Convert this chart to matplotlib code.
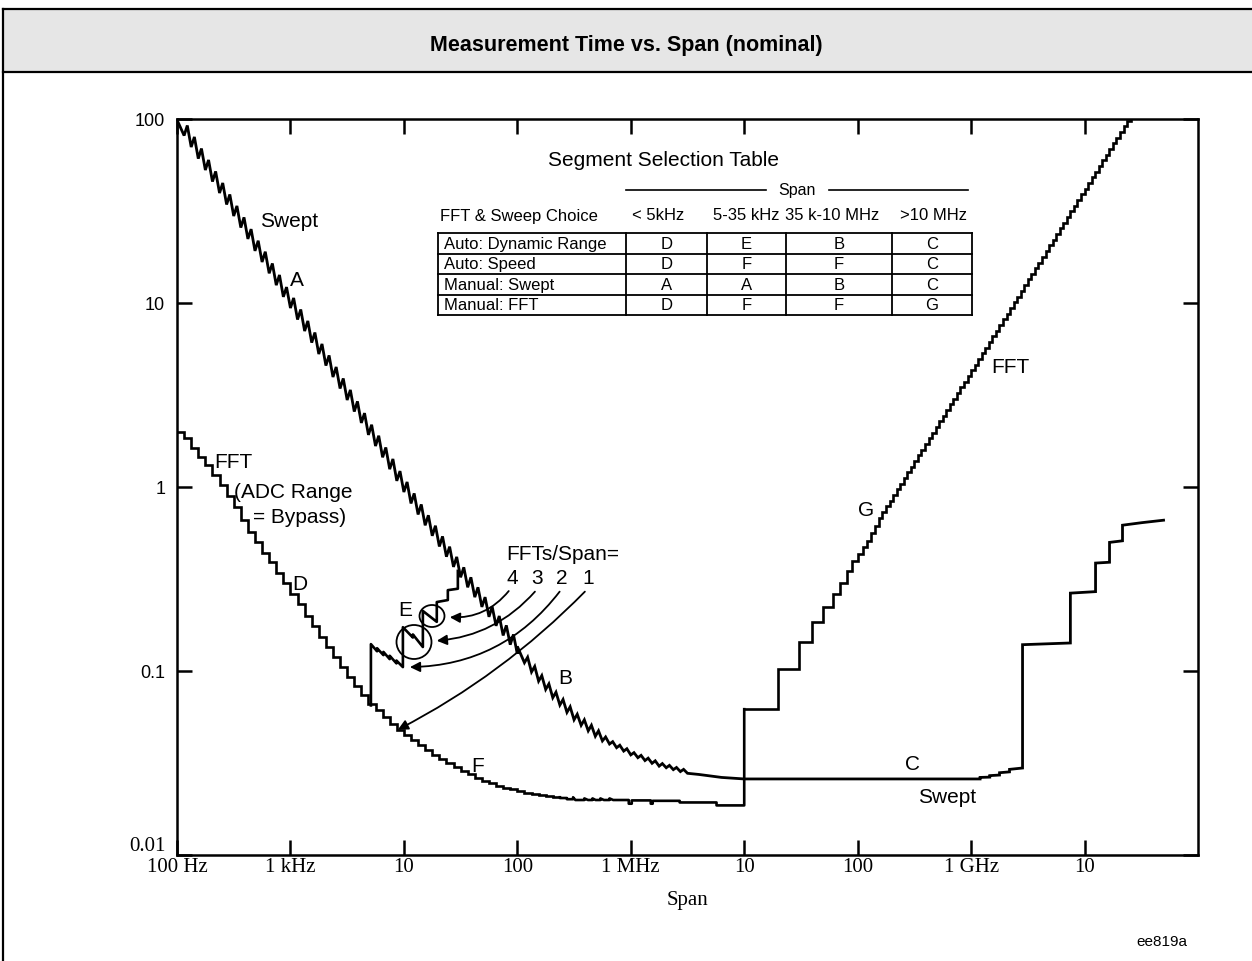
import matplotlib.pyplot as plt
from matplotlib.patches import Ellipse, Rectangle
from matplotlib.ticker import NullLocator

plt.rcParams['font.family'] = ['Liberation Sans', 'DejaVu Sans']

# sub-decade grids used by the step / tooth edges
sub16 = [1.0, 1.155, 1.334, 1.540, 1.778, 2.054, 2.371, 2.738,
         3.162, 3.652, 4.217, 4.870, 5.623, 6.494, 7.499, 8.660]
sub32 = [1.000, 1.075, 1.155, 1.241, 1.334, 1.433, 1.540, 1.655, 1.778, 1.911, 2.054,
         2.207, 2.371, 2.548, 2.738, 2.943, 3.162, 3.398, 3.652, 3.924, 4.217, 4.532,
         4.870, 5.233, 5.623, 6.043, 6.494, 6.978, 7.499, 8.058, 8.660, 9.306]

# Swept, segment A (sawtooth: value at top / bottom of each tooth), seconds
swept_a_edges = [m * 10.0**d for d in (2, 3, 4) for m in sub16] + [1e5]
swept_a_hi = [99.0, 92.2, 79.9, 69.1, 59.9, 51.9, 44.9, 38.9, 33.7, 29.2, 25.2, 21.8, 19.0, 16.4, 14.2, 12.2,
              10.65, 9.22, 7.99, 6.91, 5.99, 5.19, 4.49, 3.89, 3.37, 2.92, 2.52, 2.18, 1.90, 1.64, 1.42, 1.22,
              1.065, 0.923, 0.804, 0.702, 0.616, 0.539, 0.474, 0.417, 0.366, 0.323, 0.285, 0.252, 0.224,
              0.199, 0.177, 0.158]
swept_a_lo = [81.3, 70.4, 60.9, 52.8, 45.7, 39.6, 34.3, 29.7, 25.7, 22.3, 19.2, 16.7, 14.5, 12.5, 10.8, 9.39,
              8.13, 7.04, 6.09, 5.28, 4.57, 3.96, 3.43, 2.97, 2.57, 2.23, 1.92, 1.67, 1.45, 1.25, 1.08, 0.939,
              0.814, 0.709, 0.619, 0.543, 0.475, 0.418, 0.368, 0.323, 0.285, 0.252, 0.223, 0.197, 0.176,
              0.156, 0.139, 0.124]

# Swept, segment B
swept_b_edges = [m * 1e5 for m in sub16] + [m * 1e6 for m in sub16[:9]]
swept_b_hi = [0.1361, 0.1188, 0.1059, 0.0944, 0.0851, 0.0767, 0.0700, 0.0639, 0.0582, 0.0543,
              0.0507, 0.0473, 0.0438, 0.0413, 0.0395, 0.0378, 0.0360, 0.0348, 0.0336, 0.0325,
              0.0314, 0.0307, 0.0299, 0.0292]
swept_b_lo = [0.1109, 0.0988, 0.0881, 0.0794, 0.0716, 0.0653, 0.0596, 0.0543, 0.0507, 0.0473,
              0.0442, 0.0417, 0.0401, 0.0383, 0.0367, 0.0350, 0.0338, 0.0326, 0.0315, 0.0304,
              0.0298, 0.0291, 0.0284, 0.0278]

# Swept, segment C
swept_c_span = [3.98e6, 6.31e6, 1.0e7, 8.4e8, 1.2e9, 1.2e9, 1.46e9, 1.46e9, 1.78e9, 1.78e9,
                2.18e9, 2.18e9, 2.84e9, 2.84e9, 7.5e9, 7.5e9, 1.25e10, 1.25e10, 1.66e10,
                1.66e10, 2.16e10, 2.16e10, 3.2e10, 4.97e10]
swept_c_time = [0.0274, 0.0264, 0.0259, 0.0259, 0.0259, 0.0264, 0.0265, 0.0270, 0.0272, 0.0280,
                0.0283, 0.0292, 0.0297, 0.139, 0.142, 0.265, 0.270, 0.386, 0.390,
                0.50, 0.51, 0.62, 0.64, 0.66]

# FFT, segment D (staircase)
fft_d_edges = [m * 10.0**d for d in (2, 3, 4) for m in sub16] + [m * 1e5 for m in sub16[:7]]
fft_d_levels = [1.98, 1.84, 1.63, 1.46, 1.31, 1.16, 1.02, 0.89, 0.78, 0.66, 0.57, 0.50, 0.44, 0.39, 0.34, 0.30,
                0.262, 0.230, 0.200, 0.175, 0.153, 0.135, 0.119, 0.105, 0.093, 0.083, 0.074, 0.0665,
                0.061, 0.056, 0.0515, 0.048,
                0.0450, 0.0420, 0.0395, 0.0372, 0.0351, 0.0333, 0.0316, 0.0301, 0.0287, 0.0274,
                0.0263, 0.0253, 0.0245, 0.0238, 0.0232, 0.0227,
                0.0222, 0.0218, 0.0215, 0.0212, 0.0209, 0.0206]

# FFT, segment F (flat part up to 10 MHz)
fft_f_span = [2.371e5, 2.371e5, 2.738e5, 2.738e5, 3.1e5, 3.1e5, 3.25e5, 3.9e5, 3.9e5, 4.2e5, 4.6e5,
              4.6e5, 4.9e5, 5.4e5, 5.4e5, 5.8e5, 6.5e5, 6.5e5, 7.0e5, 9.6e5, 9.6e5, 1.02e6, 1.02e6,
              1.5e6, 1.5e6, 1.56e6, 1.56e6, 2.7e6, 2.7e6, 5.7e6, 5.7e6, 1.0e7, 1.0e7]
fft_f_time = [0.0206, 0.0204, 0.0204, 0.0201, 0.0201, 0.0206, 0.0199, 0.0199, 0.0203, 0.0199, 0.0199,
              0.0203, 0.0199, 0.0199, 0.0203, 0.0199, 0.0199, 0.0203, 0.0199, 0.0199, 0.0190, 0.0190, 0.0198,
              0.0198, 0.0190, 0.0190, 0.0197, 0.0197, 0.0193, 0.0193, 0.0186, 0.0186, 0.062]

# FFT, segment G (staircase above 10 MHz)
fft_g_edges = ([1e7, 1.97e7, 3.02e7, 3.93e7, 4.92e7, 6.03e7, 6.94e7, 8.0e7, 9.0e7, 1.0e8,
                1.11e8, 1.2e8, 1.3e8, 1.41e8]
               + [m * 1e8 for m in sub32[6:]] + [m * 1e9 for m in sub32]
               + [m * 1e10 for m in sub32[:14]] + [2.738e10])
fft_g_levels = [0.062, 0.1026, 0.144, 0.185, 0.223, 0.262, 0.30, 0.349, 0.395, 0.43, 0.47, 0.51, 0.56, 0.61,
                0.680, 0.730, 0.784, 0.841, 0.903, 0.970, 1.041, 1.118, 1.200, 1.288, 1.383, 1.485,
                1.594, 1.711, 1.837, 1.972, 2.117, 2.273, 2.440, 2.620, 2.813, 3.020, 3.242, 3.481,
                3.737, 4.012,
                4.307, 4.624, 4.964, 5.330, 5.722, 6.143, 6.595, 7.081, 7.602, 8.161, 8.762, 9.407,
                10.10, 10.84, 11.64, 12.50, 13.42, 14.41, 15.47, 16.60, 17.83, 19.14, 20.55, 22.06,
                23.68, 25.43, 27.30, 29.31, 31.47, 33.78, 36.27, 38.94,
                41.80, 44.88, 48.18, 51.73, 55.54, 59.62, 64.01, 68.72, 73.78, 79.21, 85.04, 91.30,
                98.02, 105.2]

# FFT with several FFTs per span, segment E
fft_e_span = [5.12e3, 5.12e3, 5.8e3, 5.8e3, 6.6e3, 6.6e3, 7.5e3, 7.5e3, 8.6e3, 8.6e3, 9.8e3,
              9.8e3, 1.2e4, 1.2e4, 1.47e4, 1.47e4, 1.95e4, 1.95e4, 2.44e4, 2.44e4, 2.99e4, 2.99e4]
fft_e_time = [0.065, 0.140, 0.128, 0.133, 0.122, 0.127, 0.116, 0.121, 0.110, 0.114, 0.105,
              0.173, 0.152, 0.158, 0.135, 0.212, 0.185, 0.237, 0.243, 0.275, 0.28, 0.35]

x_ticks = [1e2, 1e3, 1e4, 1e5, 1e6, 1e7, 1e8, 1e9, 1e10]
x_tick_labels = ['100 Hz', '1 kHz', '10', '100', '1 MHz', '10', '100', '1 GHz', '10']
y_ticks = [0.01, 0.1, 1, 10, 100]
y_tick_labels = ['0.01', '0.1', '1', '10', '100']

table_rows = ['Auto: Dynamic Range', 'Auto: Speed', 'Manual: Swept', 'Manual: FFT']
table_cols = ['< 5kHz', '5-35 kHz', '35 k-10 MHz', '>10 MHz']
table_cells = [['D', 'E', 'B', 'C'],
               ['D', 'F', 'F', 'C'],
               ['A', 'A', 'B', 'C'],
               ['D', 'F', 'F', 'G']]


def sawtooth(edges, hi, lo, rise=0.45):
    # each tooth climbs to its top over the first part of the tooth, then falls
    xs, ys = [edges[0]], [hi[0]]
    for k in range(len(hi)):
        if k > 0:
            xs.append(edges[k] * (edges[k + 1] / edges[k]) ** rise)
            ys.append(hi[k])
        xs.append(edges[k + 1])
        ys.append(lo[k])
    return xs, ys


fig = plt.figure(figsize=(12.52, 9.62), dpi=100)
W, H = 1252, 962
ax = fig.add_axes([177 / W, 1 - 856 / H, (1198 - 177) / W, (856 - 120) / H])
ax.set_xscale('log')
ax.set_yscale('log')
ax.set_xlim(1e2, 1e11)
ax.set_ylim(0.01, 100)

# curves
sa_x, sa_y = sawtooth(swept_a_edges, swept_a_hi, swept_a_lo)
sb_x, sb_y = sawtooth(swept_b_edges, swept_b_hi, swept_b_lo)
ax.plot(sa_x + sb_x + swept_c_span, sa_y + sb_y + swept_c_time, color='black', lw=2.0,
        solid_joinstyle='miter')
ax.stairs(fft_d_levels, fft_d_edges, baseline=None, color='black', lw=1.9)
ax.plot(fft_f_span, fft_f_time, color='black', lw=1.9)
ax.stairs(fft_g_levels, fft_g_edges, baseline=None, color='black', lw=1.9)
ax.plot(fft_e_span, fft_e_time, color='black', lw=1.9)

# axes styling
ax.set_xticks(x_ticks, x_tick_labels)
ax.set_yticks(y_ticks, y_tick_labels)
ax.xaxis.set_minor_locator(NullLocator())
ax.yaxis.set_minor_locator(NullLocator())
ax.tick_params(which='major', direction='in', length=11, width=1.8, top=True, right=True,
               colors='black')
ax.tick_params(axis='x', pad=1.5, labelsize=15)
ax.tick_params(axis='y', pad=8.5, labelsize=13)
for lab in ax.get_xticklabels():
    lab.set_fontfamily('Liberation Serif')
ylabs = ax.get_yticklabels()
ylabs[0].set_fontfamily('Liberation Serif')
ylabs[0].set_fontsize(15)
ylabs[0].set_verticalalignment('bottom')
for sp in ax.spines.values():
    sp.set_linewidth(1.8)
ax.set_xlabel('Span', family='Liberation Serif', fontsize=15, labelpad=10)

# curve annotations
fs = 15
ax.text(970, 28.2, 'Swept', fontsize=fs, ha='center', va='center')
ax.text(1.14e3, 13.5, 'A', fontsize=fs, ha='center', va='center')
ax.text(311, 1.37, 'FFT', fontsize=fs, ha='center', va='center')
ax.text(318, 0.94, '(ADC Range', fontsize=fs, ha='left', va='center')
ax.text(468, 0.695, '= Bypass)', fontsize=fs, ha='left', va='center')
ax.text(1.2e3, 0.30, 'D', fontsize=fs, ha='center', va='center')
ax.text(1.02e4, 0.215, 'E', fontsize=fs, ha='center', va='center')
ax.text(2.67e5, 0.0927, 'B', fontsize=fs, ha='center', va='center')
ax.text(4.49e4, 0.0308, 'F', fontsize=fs, ha='center', va='center')
ax.text(3.05e8, 0.0313, 'C', fontsize=fs, ha='center', va='center')
ax.text(6.2e8, 0.0209, 'Swept', fontsize=fs, ha='center', va='center')
ax.text(1.18e8, 0.75, 'G', fontsize=fs, ha='center', va='center')
ax.text(2.23e9, 4.49, 'FFT', fontsize=fs, ha='center', va='center')
ax.text(2.52e5, 0.433, 'FFTs/Span=', fontsize=fs, ha='center', va='center')
for num, xpos in zip(['4', '3', '2', '1'], [8.95e4, 1.486e5, 2.47e5, 4.18e5]):
    ax.text(xpos, 0.324, num, fontsize=fs, ha='center', va='center')

arrows = [((2.54e4, 0.196), (8.4e4, 0.272), -0.25),
          ((1.95e4, 0.146), (1.43e5, 0.27), -0.2),
          ((1.13e4, 0.105), (2.36e5, 0.27), -0.24),
          ((8.85e3, 0.048), (3.94e5, 0.27), -0.08)]
for xy, xytext, rad in arrows:
    ax.annotate('', xy=xy, xytext=xytext,
                arrowprops=dict(arrowstyle='-|>', connectionstyle=f'arc3,rad={rad}',
                                color='black', lw=1.3, mutation_scale=15,
                                shrinkA=0, shrinkB=0))

# overlay in pixel coordinates: frame, title banner, table, circles
ov = fig.add_axes([0, 0, 1, 1], zorder=5)
ov.set_xlim(0, W)
ov.set_ylim(H, 0)
ov.axis('off')
ov.patch.set_visible(False)
ov.add_patch(Rectangle((3, 10), W, 63, facecolor='#e6e6e6', edgecolor='none'))
for xs, ys in [([3, W], [10, 10]), ([3, W], [73, 73]), ([3, 3], [10, H])]:
    ov.plot(xs, ys, color='black', lw=1.6, clip_on=False)
ov.text(626, 46, 'Measurement Time vs. Span (nominal)', ha='center', va='center',
        fontsize=15.5, fontweight='bold')

ov.add_patch(Ellipse((432, 617), 25, 22, fill=False, edgecolor='black', lw=1.3))
ov.add_patch(Ellipse((414, 643), 35, 34, fill=False, edgecolor='black', lw=1.3))

ov.text(663, 160, 'Segment Selection Table', ha='center', va='center', fontsize=15)
ov.plot([626, 766], [191, 191], color='black', lw=1.2)
ov.plot([829, 968], [191, 191], color='black', lw=1.2)
ov.text(797, 190, 'Span', ha='center', va='center', fontsize=11.5)
ov.text(440, 216, 'FFT & Sweep Choice', ha='left', va='center', fontsize=12)
for label, xc in zip(table_cols, [658, 746, 832, 933]):
    ov.text(xc, 216, label, ha='center', va='center', fontsize=12)

tx = [438, 626, 707, 786, 892, 972]
ty = [234, 254.5, 275, 295.5, 316]
for yv in ty:
    ov.plot([tx[0], tx[-1]], [yv, yv], color='black', lw=1.3)
for xv in tx:
    ov.plot([xv, xv], [ty[0], ty[-1]], color='black', lw=1.3)
for r, row in enumerate(table_rows):
    yc = (ty[r] + ty[r + 1]) / 2
    ov.text(444, yc, row, ha='left', va='center', fontsize=12)
    for c, cell in enumerate(table_cells[r]):
        ov.text((tx[c + 1] + tx[c + 2]) / 2, yc, cell, ha='center', va='center', fontsize=12)

ov.text(1162, 942, 'ee819a', ha='center', va='center', fontsize=11)

fig.savefig('out.png', dpi=100)
